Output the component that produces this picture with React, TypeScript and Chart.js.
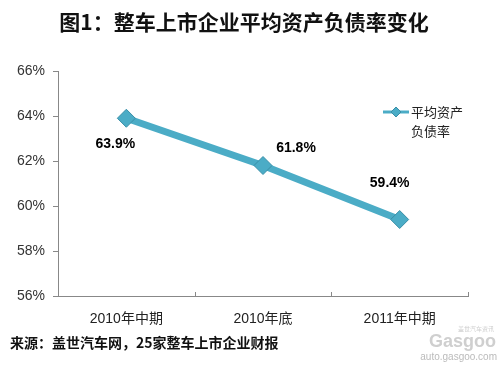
import React, { useEffect, useRef } from "react";
import { Chart, registerables } from "chart.js";

Chart.register(...registerables);

const categories = ["2010年中期", "2010年底", "2011年中期"];
const debtRatio = [63.9, 61.8, 59.4];
const seriesName = ["平均资产", "负债率"];
const yMin = 56;
const yMax = 66;
const yStep = 2;
const titleText = "图1：整车上市企业平均资产负债率变化";
const sourceText = "来源：盖世汽车网，25家整车上市企业财报";

const LINE = "#4BACC6";
const FONT = "'Liberation Sans', Arial, 'Noto Sans CJK SC', sans-serif";
const labelOffsets = [
  [-11, 26],
  [33, -17],
  [-10, -36],
];

export default function App() {
  const ref = useRef<HTMLCanvasElement>(null);
  useEffect(() => {
    if (!ref.current) return;
    const deco = {
      id: "deco",
      afterDatasetsDraw(chart: any) {
        const ctx = chart.ctx;
        const meta = chart.getDatasetMeta(0);
        ctx.save();
        ctx.font = `bold 14px ${FONT}`;
        ctx.fillStyle = "#000";
        ctx.textAlign = "center";
        ctx.textBaseline = "middle";
        meta.data.forEach((p: any, i: number) => {
          const [dx, dy] = labelOffsets[i];
          ctx.fillText(debtRatio[i].toFixed(1) + "%", p.x + dx, p.y + dy);
        });
        const xs = chart.scales.x;
        const bottom = chart.chartArea.bottom;
        ctx.strokeStyle = "#888";
        ctx.lineWidth = 1;
        for (let i = 0; i < categories.length; i++) {
          const a = xs.getPixelForValue(i);
          const b = i + 1 < categories.length ? xs.getPixelForValue(i + 1) : a + (a - xs.getPixelForValue(i - 1));
          const x = Math.round((a + b) / 2) + 0.5;
          ctx.beginPath();
          ctx.moveTo(x, bottom);
          ctx.lineTo(x, bottom - 4);
          ctx.stroke();
        }
        ctx.restore();
      },
      afterDraw(chart: any) {
        const ctx = chart.ctx;
        ctx.save();
        ctx.fillStyle = "#111";
        ctx.textAlign = "center";
        ctx.textBaseline = "middle";
        ctx.font = `bold 21px 'Noto Sans CJK SC', sans-serif`;
        ctx.fillText(titleText, 244, 22);
        // legend
        ctx.strokeStyle = LINE;
        ctx.lineWidth = 3;
        ctx.beginPath();
        ctx.moveTo(383, 112);
        ctx.lineTo(409, 112);
        ctx.stroke();
        ctx.fillStyle = LINE;
        ctx.strokeStyle = "#3a8fa8";
        ctx.lineWidth = 1;
        ctx.beginPath();
        ctx.moveTo(396, 107);
        ctx.lineTo(401, 112);
        ctx.lineTo(396, 117);
        ctx.lineTo(391, 112);
        ctx.closePath();
        ctx.fill();
        ctx.stroke();
        ctx.fillStyle = "#222";
        ctx.textAlign = "left";
        ctx.font = `13px 'Noto Sans CJK SC', sans-serif`;
        ctx.fillText(seriesName[0], 411, 112);
        ctx.fillText(seriesName[1], 411, 131);
        // source
        ctx.font = `bold 14px 'Noto Sans CJK SC', serif`;
        ctx.fillStyle = "#111";
        ctx.fillText(sourceText, 10, 343);
        // watermark
        ctx.textAlign = "right";
        ctx.fillStyle = "#cfcfcf";
        ctx.font = `6px 'Noto Sans CJK SC', sans-serif`;
        ctx.fillText("盖世汽车资讯", 494, 329);
        ctx.font = `bold 18px ${FONT}`;
        ctx.fillText("Gasgoo", 496, 342);
        ctx.font = `10px ${FONT}`;
        ctx.fillStyle = "#bbb";
        ctx.fillText("auto.gasgoo.com", 497, 357);
        ctx.restore();
      },
    };
    const chart = new Chart(ref.current, {
      type: "line",
      data: {
        labels: categories,
        datasets: [
          {
            label: seriesName.join(""),
            data: debtRatio,
            borderColor: LINE,
            backgroundColor: LINE,
            borderWidth: 7,
            pointStyle: "rectRot",
            pointRadius: 9,
            pointBackgroundColor: LINE,
            pointBorderColor: "#3a8fa8",
            pointBorderWidth: 1,
            tension: 0,
          },
        ],
      },
      options: {
        animation: false,
        responsive: false,
        devicePixelRatio: 1,
        layout: { padding: { top: 71, right: 32, bottom: 30, left: 0 } },
        plugins: {
          legend: { display: false },
          title: { display: false },
          tooltip: { enabled: false },
        },
        scales: {
          x: {
            type: "category",
            offset: true,
            grid: { display: true, drawOnChartArea: false, drawTicks: false, color: "transparent" },
            border: { display: true, color: "#888", width: 1 },
            ticks: { color: "#222", font: { size: 14, family: FONT }, padding: 15 },
            afterFit(scale: any) {
              scale.height = 40;
            },
          },
          y: {
            min: yMin,
            max: yMax,
            grid: { display: true, drawOnChartArea: false, drawTicks: true, tickLength: 5, color: "#888" },
            border: { display: true, color: "#888", width: 1 },
            ticks: {
              stepSize: yStep,
              color: "#333",
              font: { size: 14, family: FONT },
              padding: 8,
              callback: (v: any) => v + "%",
            },
            afterFit(scale: any) {
              scale.width = 58;
            },
          },
        },
      },
      plugins: [deco],
    });
    return () => chart.destroy();
  }, []);
  return (
    <div style={{ position: "absolute", left: 0, top: 0, width: 500, height: 366, background: "#fff" }}>
      <canvas ref={ref} width={500} height={366} />
    </div>
  );
}
